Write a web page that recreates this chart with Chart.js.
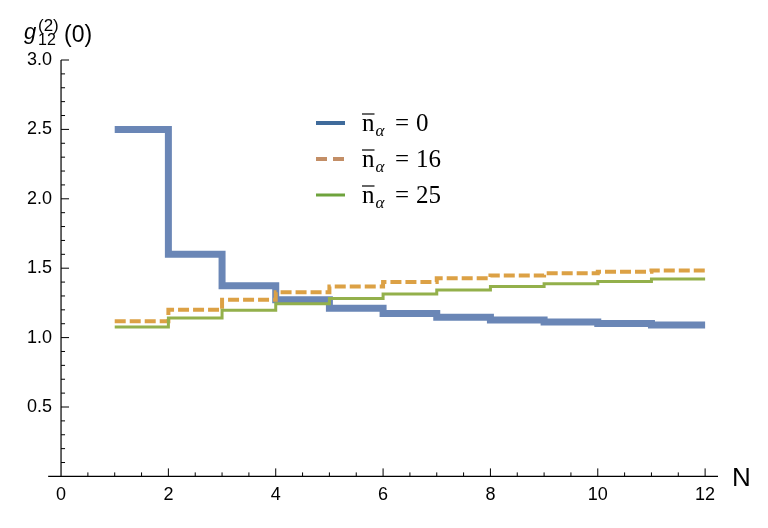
<!DOCTYPE html>
<html>
<head>
<meta charset="utf-8">
<script src="https://cdn.jsdelivr.net/npm/chart.js@4.4.1/dist/chart.umd.min.js"></script>
<style>
  html, body { margin: 0; padding: 0; background: #fff; }
  #wrap { width: 768px; height: 528px; }
</style>
</head>
<body>
<div id="wrap"><canvas id="chart"></canvas></div>
<script>
"use strict";

const nValues = [1, 2, 3, 4, 5, 6, 7, 8, 9, 10, 11, 12];
const g0 = [2.5, 1.6, 1.374, 1.273, 1.211, 1.173, 1.146, 1.127, 1.113, 1.101, 1.091, 1.091];
const g16 = [1.117, 1.201, 1.273, 1.327, 1.369, 1.4, 1.427, 1.448, 1.463, 1.475, 1.484, 1.484];
const g25 = [1.077, 1.142, 1.197, 1.244, 1.281, 1.314, 1.343, 1.369, 1.388, 1.405, 1.422, 1.422];
const seriesLabels = ["0", "16", "25"];
const xTickLabels = [0, 2, 4, 6, 8, 10, 12];
const yTickLabels = [0.5, 1.0, 1.5, 2.0, 2.5, 3.0];

const lineColors = ["#6a86b6", "#dca145", "#93b04b"];
const legendColors = ["#3f6b9b", "#c38e66", "#6ea33c"];

const toPoints = (ys) => nValues.map((n, i) => ({ x: n, y: ys[i] }));

// axes, minor ticks, axis titles and the legend drawn on top of the plot
const decorations = {
  id: "decorations",
  afterDraw(chart) {
    const { ctx, scales } = chart;
    const x = scales.x;
    const y = scales.y;
    const x0 = x.getPixelForValue(0);
    const y0 = y.getPixelForValue(0);
    ctx.save();
    ctx.strokeStyle = "#000";
    ctx.lineWidth = 1.2;

    // axis lines
    ctx.beginPath();
    ctx.moveTo(x.getPixelForValue(-0.24), y0);
    ctx.lineTo(x.getPixelForValue(12.24), y0);
    ctx.moveTo(x0, y0);
    ctx.lineTo(x0, y.getPixelForValue(3));
    ctx.stroke();

    ctx.lineWidth = 1;
    for (let k = 1; k <= 30; k++) {
      const py = y.getPixelForValue(k / 10);
      const len = k % 5 === 0 ? 8 : 4;
      ctx.beginPath();
      ctx.moveTo(x0, py);
      ctx.lineTo(x0 + len, py);
      ctx.stroke();
    }
    for (let k = 1; k <= 24; k++) {
      const px = x.getPixelForValue(k / 2);
      const len = k % 4 === 0 ? 8 : 4;
      ctx.beginPath();
      ctx.moveTo(px, y0);
      ctx.lineTo(px, y0 - len);
      ctx.stroke();
    }

    // axis titles
    ctx.fillStyle = "#000";
    ctx.textBaseline = "alphabetic";
    ctx.textAlign = "left";
    ctx.font = "26px 'Liberation Sans'";
    ctx.fillText("N", x.getPixelForValue(12.24) + 14, y0 + 10);

    ctx.font = "italic 22px 'Liberation Sans'";
    ctx.fillText("g", 24, 39);
    ctx.font = "17px 'Liberation Sans'";
    ctx.fillText("(2)", 38, 31);
    ctx.font = "16px 'Liberation Sans'";
    ctx.fillText("12", 38, 45);
    ctx.font = "23px 'Liberation Sans'";
    ctx.fillText("(0)", 64, 42);

    // legend
    const lx = 316;
    const ly = [123, 159, 195];
    const widths = [4, 4, 3];
    seriesLabels.forEach((lab, i) => {
      ctx.strokeStyle = legendColors[i];
      ctx.lineWidth = widths[i];
      ctx.setLineDash(i === 1 ? [11, 6] : []);
      ctx.beginPath();
      ctx.moveTo(lx, ly[i]);
      ctx.lineTo(lx + 29, ly[i]);
      ctx.stroke();
      ctx.setLineDash([]);

      const base = ly[i] + 8;
      ctx.fillStyle = "#000";
      ctx.font = "25px 'Liberation Serif'";
      const tx = 362;
      ctx.fillText("n", tx, base);
      const nw = ctx.measureText("n").width;
      ctx.lineWidth = 1.2;
      ctx.strokeStyle = "#000";
      ctx.beginPath();
      ctx.moveTo(tx, base - 17);
      ctx.lineTo(tx + nw, base - 17);
      ctx.stroke();
      ctx.font = "italic 17px 'Liberation Serif'";
      ctx.fillText("\u03b1", tx + nw + 1, base + 5);
      ctx.font = "25px 'Liberation Serif'";
      ctx.fillText("=", tx + 33, base);
      ctx.fillText(lab, tx + 54, base);
    });
    ctx.restore();
  }
};

new Chart(document.getElementById("chart"), {
  type: "line",
  data: {
    datasets: [
      {
        label: seriesLabels[0],
        data: toPoints(g0),
        borderColor: lineColors[0],
        borderWidth: 7,
        stepped: "before",
        pointRadius: 0,
        order: 2,
      },
      {
        label: seriesLabels[1],
        data: toPoints(g16),
        borderColor: lineColors[1],
        borderWidth: 4,
        borderDash: [11, 4],
        stepped: "before",
        pointRadius: 0,
        order: 1,
      },
      {
        label: seriesLabels[2],
        data: toPoints(g25),
        borderColor: lineColors[2],
        borderWidth: 3,
        stepped: "before",
        pointRadius: 0,
        order: 0,
      },
    ],
  },
  options: {
    responsive: true,
    maintainAspectRatio: false,
    animation: false,
    layout: {
      padding: { top: 60, right: 50, bottom: 22, left: 27 },
    },
    plugins: {
      legend: { display: false },
      tooltip: { enabled: false },
    },
    scales: {
      x: {
        type: "linear",
        min: -0.168,
        max: 12.24,
        grid: { display: false },
        border: { display: false },
        afterBuildTicks: (scale) => {
          scale.ticks = xTickLabels.map((v) => ({ value: v }));
        },
        ticks: {
          color: "#000",
          padding: 0,
          maxRotation: 0,
          font: { family: "'Liberation Sans'", size: 18 },
        },
      },
      y: {
        type: "linear",
        min: 0,
        max: 3,
        grid: { display: false, drawTicks: false },
        border: { display: false },
        afterBuildTicks: (scale) => {
          scale.ticks = yTickLabels.map((v) => ({ value: v }));
        },
        ticks: {
          color: "#000",
          padding: 0,
          font: { family: "'Liberation Sans'", size: 18 },
          callback: (v) => Number(v).toFixed(1),
        },
      },
    },
  },
  plugins: [decorations],
});
</script>
</body>
</html>
